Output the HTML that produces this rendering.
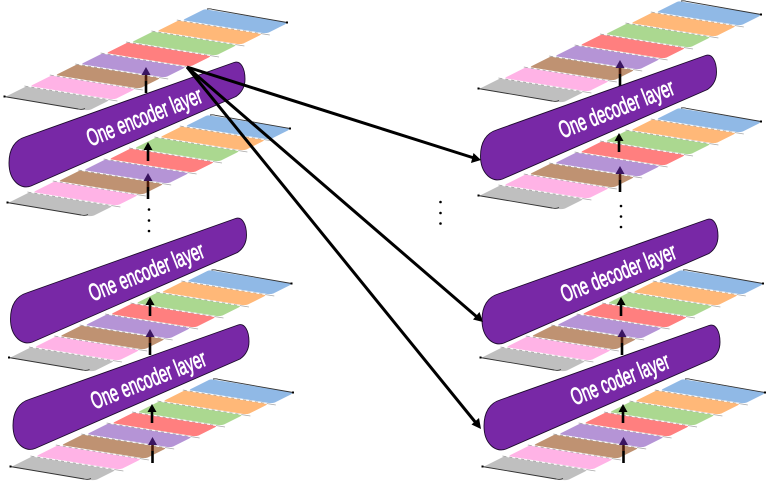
<!DOCTYPE html>
<html><head><meta charset="utf-8"><style>
html,body{margin:0;padding:0;background:#fff}
svg{display:block}
text{font-family:"Liberation Sans",sans-serif;font-weight:normal;fill:#fff;stroke:#fff;stroke-width:.8px;font-size:24px}
</style></head><body>
<svg width="768" height="481" viewBox="0 0 768 481" xmlns="http://www.w3.org/2000/svg">
<defs>
<g id="band"><path d="M0,0 L18,-9 Q20,-10 22,-9.5 L100,3 Q103,4 100,5.5 L84,13.5 Q81,14.5 78,14 L0,1.5 Q-2,1 0,0Z"/></g>
<g id="dash">
<path d="M-8,1 L85,16" fill="none" stroke="#a8a8a8" stroke-width=".8"/>
<path d="M-4,1.6 L78,14.9" fill="none" stroke="#fff" stroke-width=".9" stroke-dasharray="3 3"/>
</g>
<g id="stack">
<use href="#band" x="7" y="96" fill="#bfbfbf"/>
<use href="#band" x="32.4" y="85" fill="#ffb3e6"/>
<use href="#band" x="57.8" y="74" fill="#bf9272"/>
<use href="#band" x="83.2" y="63" fill="#b594d6"/>
<use href="#band" x="108.6" y="52" fill="#ff7f7f"/>
<use href="#band" x="134" y="41" fill="#abd890"/>
<use href="#band" x="159.4" y="30" fill="#ffb878"/>
<use href="#band" x="184.8" y="19" fill="#90b9e6"/>
<use href="#dash" x="32.4" y="85"/>
<use href="#dash" x="57.8" y="74"/>
<use href="#dash" x="83.2" y="63"/>
<use href="#dash" x="108.6" y="52"/>
<use href="#dash" x="134" y="41"/>
<use href="#dash" x="159.4" y="30"/>
<use href="#dash" x="184.8" y="19"/>
<path d="M4,96.5 L78,109 Q82,110 85,108.5" fill="none" stroke="#333" stroke-width=".9"/>
<path d="M207,9 Q210,8.5 213,9.5 L287,22.5" fill="none" stroke="#333" stroke-width=".9"/>
<rect x="3.5" y="95.5" width="2" height="2" fill="#000"/>
<rect x="286" y="21.5" width="2" height="2" fill="#000"/>
</g>
<g id="pill"><path d="M25,137 L234,62.5 C241,60 245,69 245,79 C245,87 241,93 236,96.5 L31,186 C21,190 9,181 9,163 C9,149 15,140 25,137Z" fill="#7828a6" stroke="#1c0a2c" stroke-width=".9"/></g>
<g id="dark">
<path d="M0,7 V14" stroke="#4a1a0a" stroke-width="2.6"/>
<path d="M0,14 V26" stroke="#000" stroke-width="2.6"/>
<path d="M0,0 L4.5,8 H-4.5Z" fill="#3a1560"/>
</g>
<g id="blk">
<path d="M0,6 V19" stroke="#000" stroke-width="2.6"/>
<path d="M0,0 L4.5,8 H-4.5Z" fill="#000"/>
</g>
</defs>

<!-- left stacks -->
<use href="#stack" x="6" y="370"/>
<use href="#blk" x="152" y="404"/>
<use href="#dark" x="152.5" y="437"/>
<use href="#stack" x="4.5" y="261"/>
<use href="#blk" x="150" y="297"/>
<use href="#dark" x="150" y="329"/>
<use href="#stack" x="3" y="106"/>
<use href="#blk" x="148" y="142"/>
<use href="#dark" x="148" y="173"/>
<use href="#stack" x="0" y="0"/>
<use href="#dark" x="146" y="67"/>

<!-- right stacks -->
<use href="#stack" x="478" y="370"/>
<use href="#blk" x="623" y="404"/>
<use href="#dark" x="623.5" y="437"/>
<use href="#stack" x="476" y="261"/>
<use href="#blk" x="621" y="297"/>
<use href="#dark" x="622" y="329"/>
<use href="#stack" x="474" y="99"/>
<use href="#blk" x="619" y="133"/>
<use href="#dark" x="620" y="166"/>
<use href="#stack" x="474" y="-8"/>
<use href="#dark" x="620" y="60"/>

<!-- pills -->
<use href="#pill" x="4" y="262.5"/>
<use href="#pill" x="1.5" y="156"/>
<use href="#pill" x="0" y="0"/>
<use href="#pill" x="475" y="263"/>
<use href="#pill" x="473" y="157"/>
<use href="#pill" x="471.5" y="-7"/>

<!-- labels -->
<text transform="translate(90.5,146.5) rotate(-21.5)" textLength="122" lengthAdjust="spacingAndGlyphs">One encoder layer</text>
<text transform="translate(92.5,301.5) rotate(-21.5)" textLength="122" lengthAdjust="spacingAndGlyphs">One encoder layer</text>
<text transform="translate(94.5,409.5) rotate(-21.5)" textLength="122" lengthAdjust="spacingAndGlyphs">One encoder layer</text>
<text transform="translate(562.5,138.5) rotate(-21.5)" textLength="122" lengthAdjust="spacingAndGlyphs">One decoder layer</text>
<text transform="translate(564.5,302.5) rotate(-21.5)" textLength="122" lengthAdjust="spacingAndGlyphs">One decoder layer</text>
<text transform="translate(574.5,405.5) rotate(-21.5)" textLength="104" lengthAdjust="spacingAndGlyphs">One coder layer</text>

<!-- dots -->
<g fill="#000">
<circle cx="149" cy="209.5" r="1.3"/><circle cx="149" cy="220.5" r="1.3"/><circle cx="149" cy="231" r="1.3"/>
<circle cx="621" cy="206" r="1.3"/><circle cx="621" cy="216.5" r="1.3"/><circle cx="621" cy="227" r="1.3"/>
<circle cx="440.5" cy="202" r="1.3"/><circle cx="440.5" cy="213" r="1.3"/><circle cx="440.5" cy="223.5" r="1.3"/>
</g>

<!-- long arrows -->
<g stroke="#000" stroke-width="3" fill="none">
<path d="M187,67 L474,158"/>
<path d="M187,67 L477,317"/>
<path d="M187,67 L476,423"/>
</g>
<g fill="#000">
<path d="M481,160 L471,163 L473.5,153Z"/>
<path d="M483,322 L473,319.5 L479.5,312Z"/>
<path d="M481,429 L471.5,424.5 L479,418Z"/>
</g>
</svg>
</body></html>
